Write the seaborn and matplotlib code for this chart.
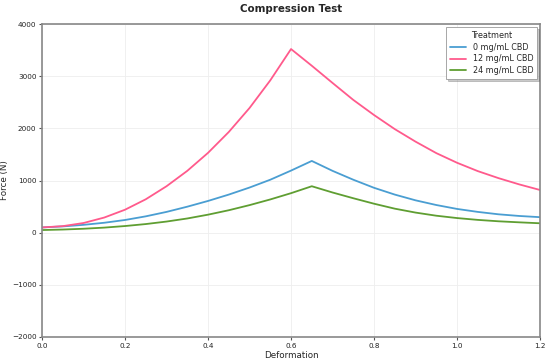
import matplotlib
matplotlib.use("Agg")
import matplotlib.pyplot as plt
import seaborn as sns
import pandas as pd

deformation = [0.0, 0.05, 0.10, 0.15, 0.20, 0.25, 0.30, 0.35, 0.40, 0.45, 0.50, 0.55, 0.60,
               0.65, 0.70, 0.75, 0.80, 0.85, 0.90, 0.95, 1.00, 1.05, 1.10, 1.15, 1.20]
force_0 = [100, 120, 150, 190, 243, 313, 398, 498, 608, 730, 865, 1015, 1190,
           1375, 1185, 1015, 860, 730, 620, 530, 455, 398, 352, 320, 297]
force_12 = [100, 125, 185, 290, 440, 640, 890, 1185, 1530, 1930, 2390, 2920, 3520,
            3200, 2870, 2545, 2255, 1985, 1745, 1525, 1340, 1180, 1045, 925, 818]
force_24 = [50, 60, 75, 97, 127, 165, 213, 272, 345, 430, 528, 637, 757,
            890, 770, 660, 555, 460, 385, 325, 280, 245, 218, 198, 180]
treatments = ["0 mg/mL CBD", "12 mg/mL CBD", "24 mg/mL CBD"]
colors = ["#4a9ed2", "#ff5a8c", "#5f9e32"]

rows = []
for t, f in zip(treatments, [force_0, force_12, force_24]):
    for x, y in zip(deformation, f):
        rows.append({"Deformation": x, "Force (N)": y, "Treatment": t})
df = pd.DataFrame(rows)

sns.set_theme(style="whitegrid")
plt.rcParams['font.family'] = ['DejaVu Sans']

fig = plt.figure(figsize=(5.5, 3.61), dpi=100)
ax = fig.add_axes([0.0764, 0.0665, 0.9055, 0.867])
sns.lineplot(data=df, x="Deformation", y="Force (N)", hue="Treatment",
             palette=dict(zip(treatments, colors)), linewidth=1.3, ax=ax)

ax.set_xlim(0, 1.2)
ax.set_ylim(-2000, 4000)
ax.set_xticks([0.0, 0.2, 0.4, 0.6, 0.8, 1.0, 1.2])
ax.set_yticks([-2000, -1000, 0, 1000, 2000, 3000, 4000])
ax.tick_params(axis="both", labelsize=5.2, length=2.5, width=0.8, color="#555555",
               direction="out", pad=1.5, left=True, bottom=True, labelcolor="#222222")
ax.grid(True, color="#eeeeee", linewidth=0.6)
for s in ax.spines.values():
    s.set_color("#888888")
    s.set_linewidth(1.2)
ax.set_title("Compression Test", fontsize=7.4, fontweight="bold", pad=9)
ax.set_xlabel("Deformation", fontsize=6.3, labelpad=2)
ax.set_ylabel("Force (N)", fontsize=6.3, labelpad=2)
leg = ax.legend(title="Treatment", loc="upper right", fontsize=5.8, title_fontsize=5.8,
                frameon=True, shadow={"ox": 1.5, "oy": -1.5, "alpha": 0.3},
                fancybox=False, borderpad=0.45,
                handlelength=2.0, labelspacing=0.35, borderaxespad=0.4)
leg.get_frame().set_edgecolor("#999999")
leg.get_frame().set_linewidth(0.6)

fig.savefig("out.png", dpi=100)
